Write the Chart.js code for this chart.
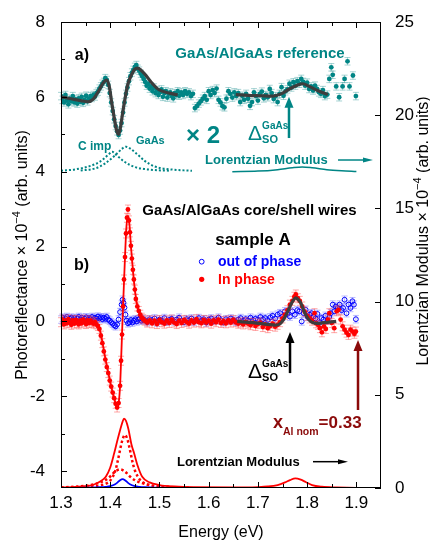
<!DOCTYPE html>
<html>
<head>
<meta charset="utf-8">
<script src="https://cdn.jsdelivr.net/npm/chart.js@4/dist/chart.umd.min.js"></script>
<style>
  html, body { margin: 0; padding: 0; background: #fff; }
</style>
</head>
<body>
<canvas id="pr-canvas" width="430" height="543"></canvas>
<script>
'use strict';

/* ticks */
const xTicks = [1.3, 1.4, 1.5, 1.6, 1.7, 1.8, 1.9];
const xMinor = [1.35, 1.45, 1.55, 1.65, 1.75, 1.85];
const yTicks = [-4, -2, 0, 2, 4, 6, 8];
const yMinor = [-3, -1, 1, 3, 5, 7];
const rTicks = [0, 5, 10, 15, 20, 25];

/* a) GaAs/AlGaAs reference, photoreflectance (x2) */
const refPoints = [
  [1.300,6.02],[1.303,5.92],[1.306,5.85],[1.309,6.05],[1.312,5.90],[1.315,5.80],[1.318,5.95],[1.321,5.88],
  [1.324,6.02],[1.327,5.85],[1.330,5.93],[1.333,5.82],[1.336,5.96],[1.339,5.87],[1.342,6.00],[1.345,5.84],
  [1.348,5.92],[1.351,6.03],[1.354,5.88],[1.357,5.95],[1.360,6.02],[1.363,5.97],[1.366,6.05],[1.369,6.01],
  [1.372,6.10],[1.375,6.14],[1.378,6.22],[1.381,6.28],[1.384,6.35],[1.387,6.40],[1.390,6.50],[1.393,6.45],
  [1.396,6.32],[1.399,6.10],[1.402,5.85],[1.405,5.62],[1.408,5.40],[1.411,5.22],[1.414,5.08],[1.417,4.98],
  [1.420,5.10],[1.423,5.30],[1.426,5.58],[1.429,5.85],[1.432,6.08],[1.435,6.25],[1.438,6.42],[1.441,6.55],
  [1.444,6.65],[1.447,6.72],[1.450,6.80],[1.453,6.85],[1.456,6.75],[1.459,6.70],[1.462,6.62],[1.465,6.55],
  [1.468,6.48],[1.471,6.40],[1.474,6.30],[1.477,6.35],[1.480,6.22],[1.483,6.28],[1.486,6.15],[1.489,6.25],
  [1.492,6.10],[1.495,6.18],[1.498,6.05],[1.501,6.12],[1.504,6.20],[1.507,6.00],[1.510,6.10],[1.513,6.15],
  [1.516,5.98],[1.519,6.08],[1.522,6.12],[1.525,6.02],[1.528,5.96],[1.531,6.10],[1.534,6.05],[1.537,6.15],
  [1.540,6.03],[1.544,6.12],[1.548,6.05],[1.552,6.15],[1.556,6.08],[1.560,6.12],[1.564,6.02],[1.568,6.08],
  [1.572,5.70],[1.576,5.75],[1.580,5.82],[1.584,5.88],[1.588,5.95],[1.592,6.02],[1.596,5.92],[1.600,6.15],
  [1.604,6.05],[1.608,6.18],[1.612,6.10],[1.616,6.22],[1.620,5.92],[1.624,5.85],[1.628,5.75],[1.632,5.72],
  [1.636,5.95],[1.640,6.15],[1.644,6.08],[1.648,5.98],[1.652,6.12],[1.656,6.02],[1.660,6.10],[1.664,5.86],
  [1.668,6.03],[1.672,5.92],[1.676,6.08],[1.680,5.95],[1.684,5.76],[1.688,5.86],[1.692,6.12],[1.696,6.02],
  [1.700,5.90],[1.704,6.08],[1.708,6.14],[1.712,5.96],[1.716,6.05],[1.720,5.99],[1.724,6.21],[1.728,6.10],
  [1.732,5.94],[1.736,6.02],[1.740,5.86],[1.744,6.08],[1.748,6.26],[1.752,6.03],[1.756,6.15],[1.760,6.20],
  [1.764,6.35],[1.768,6.25],[1.772,6.39],[1.776,6.30],[1.780,6.42],[1.784,6.35],[1.788,6.48],[1.792,6.40],
  [1.796,6.30],[1.800,6.38],[1.804,6.21],[1.808,6.28],[1.812,6.17],[1.816,6.30],[1.820,6.21],[1.824,6.12],
  [1.828,6.08],[1.832,6.18],[1.836,6.02],[1.841,6.06],[1.845,6.48],[1.849,6.79],[1.852,6.59],[1.859,6.28],
  [1.865,5.99],[1.872,6.28],[1.876,6.48],[1.882,6.95],[1.886,6.28],[1.893,6.57],[1.899,6.02]
];
const refFitLow = [
  [1.300,6.00],[1.320,5.95],[1.340,5.90],[1.355,5.87],[1.365,5.93],[1.377,6.17],[1.386,6.38],[1.393,6.45],
  [1.398,6.28],[1.403,5.85],[1.408,5.45],[1.413,5.10],[1.417,5.00],[1.421,5.20],[1.425,5.55],[1.430,5.95],
  [1.436,6.35],[1.444,6.61],[1.450,6.74],[1.455,6.77],[1.462,6.72],[1.472,6.58],[1.486,6.35],[1.499,6.19],
  [1.520,6.10],[1.537,6.05]
];
const refFitHigh = [
  [1.655,6.06],[1.680,6.04],[1.705,6.03],[1.730,6.02],[1.747,6.08],[1.764,6.21],[1.781,6.32],[1.791,6.35],
  [1.804,6.28],[1.821,6.17],[1.842,6.06]
];
/* a) Lorentzian moduli (right axis) */
const refModCimp = [
  [1.300,17.02],[1.330,17.10],[1.360,17.28],[1.380,17.52],[1.395,17.85],[1.404,18.04],[1.413,17.85],
  [1.428,17.52],[1.450,17.22],[1.480,17.08],[1.520,17.02]
];
const refModGaAs = [
  [1.340,17.03],[1.370,17.15],[1.390,17.42],[1.410,17.85],[1.425,18.22],[1.432,18.31],[1.440,18.22],
  [1.455,17.90],[1.470,17.55],[1.490,17.25],[1.520,17.10],[1.550,17.04],[1.566,17.02]
];
const refModHigh = [
  [1.648,16.97],[1.700,17.00],[1.740,17.08],[1.770,17.18],[1.790,17.22],[1.810,17.18],[1.840,17.08],
  [1.870,17.02],[1.900,16.98]
];

/* b) core/shell wires, in phase */
const inPhase = [
  [1.300,-0.02],[1.303,0.05],[1.306,-0.08],[1.309,0.02],[1.312,-0.05],[1.315,0.06],[1.318,-0.03],[1.321,-0.09],
  [1.324,0.03],[1.327,-0.06],[1.330,0.04],[1.333,-0.04],[1.336,-0.08],[1.339,0.02],[1.342,-0.05],[1.345,0.05],
  [1.348,-0.02],[1.351,-0.07],[1.354,0.03],[1.357,-0.04],[1.360,0.02],[1.363,-0.03],[1.366,-0.06],[1.369,-0.02],
  [1.372,-0.08],[1.375,-0.12],[1.378,-0.20],[1.381,-0.38],[1.384,-0.58],[1.387,-0.80],[1.390,-1.02],[1.393,-1.22],
  [1.396,-1.38],[1.399,-1.58],[1.402,-1.74],[1.405,-1.90],[1.408,-2.05],[1.411,-2.20],[1.414,-2.30],[1.417,-2.18],
  [1.420,-1.72],[1.422,-1.05],[1.424,-0.35],[1.426,0.40],[1.428,1.12],[1.430,1.72],[1.432,2.35],[1.434,2.77],
  [1.436,2.99],[1.438,2.70],[1.440,2.38],[1.442,2.02],[1.444,1.68],[1.446,1.38],[1.448,1.12],[1.450,0.85],
  [1.452,0.60],[1.455,0.40],[1.458,0.28],[1.461,0.18],[1.464,0.10],[1.467,0.06],[1.470,0.02],[1.475,-0.03],
  [1.480,0.03],[1.485,-0.05],[1.490,0.02],[1.495,-0.07],[1.500,0.04],[1.505,-0.02],[1.510,-0.06],[1.515,0.03],
  [1.520,-0.04],[1.525,0.05],[1.530,-0.03],[1.535,-0.07],[1.540,0.02],[1.545,-0.04],[1.550,0.04],[1.555,-0.01],
  [1.560,-0.06],[1.565,0.03],[1.570,-0.03],[1.575,0.06],[1.580,-0.02],[1.585,-0.05],[1.590,0.04],[1.595,-0.03],
  [1.600,0.02],[1.605,-0.06],[1.610,0.03],[1.615,-0.02],[1.620,0.05],[1.625,-0.04],[1.630,0.01],[1.635,-0.05],
  [1.640,0.03],[1.645,-0.03],[1.650,0.04],[1.655,-0.02],[1.660,-0.06],[1.665,-0.03],[1.670,-0.08],[1.675,-0.02],
  [1.680,-0.06],[1.685,-0.10],[1.690,-0.04],[1.695,-0.12],[1.700,-0.07],[1.705,-0.03],[1.710,-0.15],[1.715,-0.08],
  [1.720,-0.18],[1.725,-0.12],[1.730,-0.06],[1.735,-0.14],[1.740,-0.09],[1.745,-0.02],[1.750,0.08],[1.755,0.18],
  [1.760,0.30],[1.765,0.45],[1.770,0.55],[1.774,0.66],[1.777,0.72],[1.781,0.62],[1.785,0.55],[1.790,0.40],
  [1.795,0.26],[1.800,0.15],[1.805,0.08],[1.810,0.02],[1.815,0.22],[1.818,-0.05],[1.822,-0.09],[1.826,-0.18],
  [1.830,-0.29],[1.834,-0.13],[1.838,-0.20],[1.842,0.05],[1.845,0.22],[1.850,-0.04],[1.855,-0.18],[1.860,0.27],
  [1.864,0.31],[1.868,0.05],[1.872,-0.13],[1.876,-0.22],[1.880,-0.30],[1.884,-0.36],[1.888,-0.22],[1.892,-0.27],
  [1.896,-0.33],[1.899,-0.27]
];
/* b) out of phase */
const outPhase = [
  [1.300,0.05],[1.303,0.10],[1.306,0.02],[1.309,0.08],[1.312,0.12],[1.315,0.03],[1.318,0.07],[1.321,0.10],
  [1.324,0.04],[1.327,0.09],[1.330,0.02],[1.333,0.08],[1.336,0.12],[1.339,0.05],[1.342,0.10],[1.345,0.03],
  [1.348,0.07],[1.351,0.11],[1.354,0.04],[1.357,0.09],[1.360,0.06],[1.363,0.12],[1.366,0.05],[1.369,0.10],
  [1.372,0.07],[1.375,0.13],[1.378,0.08],[1.381,0.11],[1.384,0.06],[1.387,0.10],[1.390,0.07],[1.393,0.12],
  [1.396,0.05],[1.399,0.02],[1.402,-0.02],[1.405,-0.06],[1.408,-0.10],[1.411,-0.13],[1.414,-0.08],[1.417,0.05],
  [1.420,0.25],[1.423,0.45],[1.425,0.58],[1.427,0.50],[1.429,0.37],[1.431,0.18],[1.433,0.02],[1.436,-0.05],
  [1.439,-0.02],[1.442,0.04],[1.445,-0.03],[1.448,0.02],[1.451,0.06],[1.454,0.00],[1.457,0.05],[1.460,0.08],
  [1.463,0.02],[1.466,0.06],[1.470,0.04],[1.475,-0.02],[1.480,0.06],[1.485,0.01],[1.490,0.08],[1.495,-0.03],
  [1.500,0.05],[1.505,0.02],[1.510,0.09],[1.515,-0.01],[1.520,0.04],[1.525,0.07],[1.530,0.00],[1.535,0.05],
  [1.540,0.10],[1.545,0.02],[1.550,-0.02],[1.555,0.06],[1.560,0.03],[1.565,0.08],[1.570,-0.01],[1.575,0.04],
  [1.580,0.09],[1.585,0.02],[1.590,0.06],[1.595,-0.03],[1.600,0.05],[1.605,0.08],[1.610,0.01],[1.615,0.04],
  [1.620,0.10],[1.625,0.03],[1.630,-0.02],[1.635,0.06],[1.640,0.02],[1.645,0.08],[1.650,0.04],[1.655,-0.01],
  [1.660,0.05],[1.665,0.09],[1.670,0.02],[1.675,0.06],[1.680,0.03],[1.685,0.10],[1.690,0.04],[1.695,0.07],
  [1.700,0.05],[1.705,0.12],[1.710,0.06],[1.715,0.09],[1.720,0.04],[1.725,0.11],[1.730,0.15],[1.735,0.08],
  [1.740,0.18],[1.745,0.22],[1.750,0.13],[1.755,0.27],[1.760,0.20],[1.765,0.13],[1.770,0.27],[1.775,0.18],
  [1.780,0.30],[1.784,0.27],[1.789,0.00],[1.793,0.22],[1.797,0.31],[1.801,0.12],[1.805,0.18],[1.809,0.22],
  [1.813,0.13],[1.817,0.08],[1.821,0.20],[1.825,-0.04],[1.829,0.09],[1.833,0.05],[1.837,0.15],[1.841,0.02],
  [1.845,0.12],[1.848,0.22],[1.852,0.45],[1.855,0.27],[1.858,0.40],[1.862,0.36],[1.866,0.45],[1.870,0.30],
  [1.873,0.36],[1.876,0.58],[1.880,0.22],[1.884,0.45],[1.888,0.36],[1.892,0.54],[1.895,0.45],[1.899,0.06]
];
const inPhaseFit = [
  [1.300,-0.02],[1.320,-0.02],[1.340,-0.03],[1.360,-0.03],[1.370,-0.06],[1.375,-0.12],[1.380,-0.28],
  [1.385,-0.62],[1.390,-0.98],[1.395,-1.30],[1.400,-1.62],[1.405,-1.90],[1.410,-2.15],[1.414,-2.30],
  [1.417,-2.20],[1.420,-1.72],[1.423,-0.70],[1.426,0.40],[1.430,1.72],[1.433,2.55],[1.436,2.82],
  [1.439,2.60],[1.442,2.02],[1.446,1.38],[1.450,0.85],[1.455,0.42],[1.460,0.22],[1.470,0.06],[1.480,0.00],
  [1.500,-0.02],[1.550,-0.02],[1.600,-0.02]
];
const wireFitHigh = [
  [1.658,0.00],[1.690,-0.03],[1.720,-0.08],[1.735,-0.10],[1.745,-0.06],[1.752,0.05],[1.760,0.25],
  [1.767,0.45],[1.772,0.57],[1.777,0.63],[1.782,0.58],[1.787,0.49],[1.792,0.33],[1.797,0.18],[1.804,0.04],
  [1.811,-0.03],[1.820,-0.05],[1.830,-0.04],[1.845,-0.02],[1.859,0.00]
];
/* b) Lorentzian moduli (right axis) */
const modInPhase = [
  [1.300,0.03],[1.330,0.06],[1.350,0.10],[1.364,0.16],[1.375,0.28],[1.385,0.45],[1.391,0.60],[1.400,1.10],
  [1.408,1.86],[1.415,2.60],[1.420,3.10],[1.425,3.55],[1.428,3.72],[1.432,3.60],[1.437,3.15],[1.443,2.35],
  [1.4485,1.86],[1.455,1.25],[1.465,0.60],[1.480,0.30],[1.500,0.16],[1.530,0.08],[1.570,0.04],[1.650,0.03],
  [1.700,0.05],[1.720,0.08],[1.740,0.16],[1.755,0.30],[1.765,0.42],[1.776,0.52],[1.787,0.45],[1.797,0.32],
  [1.810,0.16],[1.830,0.07],[1.860,0.03],[1.900,0.01],[1.950,0.01]
];
const modInPhaseA = [
  [1.300,0.02],[1.340,0.05],[1.370,0.10],[1.390,0.22],[1.400,0.40],[1.410,0.90],[1.415,1.42],[1.420,2.05],
  [1.425,2.60],[1.430,2.84],[1.435,2.60],[1.440,2.05],[1.445,1.42],[1.450,0.95],[1.460,0.45],[1.470,0.25],
  [1.490,0.10],[1.520,0.05],[1.560,0.02]
];
const modInPhaseB = [
  [1.300,0.03],[1.330,0.07],[1.360,0.16],[1.380,0.30],[1.390,0.42],[1.400,0.62],[1.410,0.88],[1.420,1.00],
  [1.430,0.88],[1.440,0.62],[1.450,0.42],[1.460,0.30],[1.480,0.16],[1.510,0.07],[1.550,0.03]
];
const modOutPhase = [
  [1.300,0.01],[1.360,0.02],[1.380,0.04],[1.390,0.06],[1.400,0.10],[1.410,0.20],[1.415,0.30],[1.420,0.42],
  [1.425,0.48],[1.430,0.42],[1.435,0.30],[1.440,0.20],[1.450,0.10],[1.460,0.06],[1.470,0.04],[1.490,0.02],
  [1.550,0.01]
];

const FONT = '"Liberation Sans", Arial, sans-serif';
const TEAL = '#008585', RED = '#ff0000', BLUE = '#0000ff', DARKRED = '#8b0a0a', FITGRAY = '#3d3d3d';

const xy = arr => arr.map(p => ({ x: p[0], y: p[1] }));

function line(data, color, width, yAxisID, dash) {
  return {
    data: xy(data), yAxisID: yAxisID || 'y', showLine: true, borderColor: color, borderWidth: width,
    borderDash: dash || [], pointRadius: 0, tension: 0.4, cubicInterpolationMode: 'monotone', fill: false
  };
}
function points(data, color, open, err, errColor) {
  return {
    data: xy(data), yAxisID: 'y', showLine: false, pointRadius: 2.4,
    pointBackgroundColor: open ? 'rgba(0,0,0,0)' : color, pointBorderColor: color,
    pointBorderWidth: open ? 1 : 0, err: err, errColor: errColor
  };
}

function runsWidth(ctx, parts) {
  let w = 0;
  parts.forEach(p => { ctx.font = p[1]; w += ctx.measureText(p[0]).width; });
  return w;
}
function runs(ctx, x, y, parts) {
  let cx = x;
  parts.forEach(p => { ctx.font = p[1]; ctx.fillText(p[0], cx, y + (p[2] || 0)); cx += ctx.measureText(p[0]).width; });
  return cx;
}
function arrow(ctx, x1, y1, x2, y2, color, lw, hl, hw) {
  const a = Math.atan2(y2 - y1, x2 - x1);
  ctx.save();
  ctx.strokeStyle = color; ctx.fillStyle = color; ctx.lineWidth = lw;
  ctx.beginPath(); ctx.moveTo(x1, y1);
  ctx.lineTo(x2 - Math.cos(a) * hl * 0.8, y2 - Math.sin(a) * hl * 0.8); ctx.stroke();
  ctx.translate(x2, y2); ctx.rotate(a);
  ctx.beginPath(); ctx.moveTo(0, 0); ctx.lineTo(-hl, -hw / 2); ctx.lineTo(-hl, hw / 2); ctx.closePath(); ctx.fill();
  ctx.restore();
}
function delta(ctx, x, y, color) {
  ctx.fillStyle = color;
  ctx.font = '21px ' + FONT;
  ctx.fillText('\u0394', x, y);
  const dx = x + ctx.measureText('\u0394').width;
  ctx.font = 'bold 10px ' + FONT; ctx.fillText('GaAs', dx, y - 11);
  ctx.font = 'bold 11px ' + FONT; ctx.fillText('SO', dx, y + 3);
}

const errorBars = {
  id: 'errorBars',
  beforeDatasetDraw(chart, args) {
    const ds = chart.data.datasets[args.index];
    if (!ds.err) return;
    const ctx = chart.ctx, sy = chart.scales.y;
    ctx.save();
    ctx.strokeStyle = ds.errColor; ctx.lineWidth = 1;
    args.meta.data.forEach((pt, i) => {
      const v = ds.data[i].y;
      const t = sy.getPixelForValue(v + ds.err), b = sy.getPixelForValue(v - ds.err);
      ctx.beginPath();
      ctx.moveTo(pt.x, t); ctx.lineTo(pt.x, b);
      ctx.moveTo(pt.x - 3, t); ctx.lineTo(pt.x + 3, t);
      ctx.moveTo(pt.x - 3, b); ctx.lineTo(pt.x + 3, b);
      ctx.stroke();
    });
    ctx.restore();
  }
};

const frame = {
  id: 'frame',
  afterDraw(chart) {
    const ctx = chart.ctx, ca = chart.chartArea;
    const sx = chart.scales.x, sy = chart.scales.y, sr = chart.scales.yR;
    const X = v => sx.getPixelForValue(v), Y = v => sy.getPixelForValue(v), R = v => sr.getPixelForValue(v);
    ctx.save();
    // frame + inward ticks
    ctx.strokeStyle = '#000'; ctx.lineWidth = 1;
    ctx.strokeRect(ca.left + 0.5, ca.top + 0.5, ca.right - ca.left - 1, ca.bottom - ca.top - 1);
    ctx.beginPath();
    const tx = (v, len) => { const p = Math.round(X(v)) + 0.5; ctx.moveTo(p, ca.bottom); ctx.lineTo(p, ca.bottom - len); ctx.moveTo(p, ca.top); ctx.lineTo(p, ca.top + len); };
    xTicks.forEach(v => tx(v, 6)); xMinor.forEach(v => tx(v, 4));
    yTicks.forEach(v => { const p = Math.round(Y(v)) + 0.5; ctx.moveTo(ca.left, p); ctx.lineTo(ca.left + 6, p); });
    yMinor.forEach(v => { const p = Math.round(Y(v)) + 0.5; ctx.moveTo(ca.left, p); ctx.lineTo(ca.left + 4, p); });
    rTicks.forEach(v => { const p = Math.round(R(v)) + 0.5; ctx.moveTo(ca.right, p); ctx.lineTo(ca.right - 6, p); });
    ctx.stroke();

    // axis titles
    ctx.fillStyle = '#000'; ctx.textBaseline = 'middle'; ctx.textAlign = 'left';
    const leftT = [['Photoreflectance \u00d7 10', '16px ' + FONT], ['\u22124', '11px ' + FONT, -6], [' (arb. units)', '16px ' + FONT]];
    const rightT = [['Lorentzian Modulus \u00d7 10', '16px ' + FONT], ['\u22124', '11px ' + FONT, -6], [' (arb. units)', '16px ' + FONT]];
    ctx.save(); ctx.translate(23, (ca.top + ca.bottom) / 2); ctx.rotate(-Math.PI / 2);
    runs(ctx, -runsWidth(ctx, leftT) / 2, 0, leftT); ctx.restore();
    ctx.save(); ctx.translate(424, (ca.top + ca.bottom) / 2 - 24); ctx.rotate(-Math.PI / 2);
    runs(ctx, -runsWidth(ctx, rightT) / 2, 0, rightT); ctx.restore();
    ctx.textAlign = 'center'; ctx.font = '16px ' + FONT;
    ctx.fillText('Energy (eV)', (ca.left + ca.right) / 2, 533);

    // panel a annotations
    ctx.textBaseline = 'alphabetic'; ctx.textAlign = 'left';
    ctx.fillStyle = '#000'; ctx.font = 'bold 16px ' + FONT;
    ctx.fillText('a)', X(1.328), Y(6.985));
    ctx.fillStyle = TEAL; ctx.textAlign = 'center'; ctx.font = 'bold 15px ' + FONT;
    ctx.fillText('GaAs/AlGaAs reference', X(1.7042), Y(7.04));
    ctx.font = 'bold 24px ' + FONT;
    ctx.fillText('\u00d7 2', X(1.5884), Y(4.77));
    ctx.textAlign = 'left';
    ctx.font = 'bold 12px ' + FONT; ctx.fillText('C imp', X(1.3345), Y(4.58));
    ctx.font = 'bold 11px ' + FONT; ctx.fillText('GaAs', X(1.4523), Y(4.74));
    delta(ctx, X(1.680), Y(4.847), TEAL);
    arrow(ctx, X(1.7631), Y(4.90), X(1.7631), Y(6.0), TEAL, 2.5, 11, 9);
    ctx.fillStyle = TEAL; ctx.font = 'bold 13px ' + FONT;
    ctx.fillText('Lorentzian Modulus', X(1.5925), Y(4.206));
    arrow(ctx, X(1.8627), Y(4.313), X(1.9338), Y(4.313), TEAL, 1.5, 10, 5);

    // panel b annotations
    ctx.fillStyle = '#000'; ctx.textAlign = 'center';
    ctx.font = 'bold 15px ' + FONT; ctx.fillText('GaAs/AlGaAs core/shell wires', X(1.6829), Y(2.844));
    ctx.font = 'bold 17px ' + FONT; ctx.fillText('sample A', X(1.690), Y(2.042));
    ctx.textAlign = 'left';
    ctx.font = 'bold 16px ' + FONT; ctx.fillText('b)', X(1.3264), Y(1.374));
    ctx.strokeStyle = BLUE; ctx.lineWidth = 1;
    ctx.beginPath(); ctx.arc(X(1.5858), Y(1.596), 2.4, 0, Math.PI * 2); ctx.stroke();
    ctx.fillStyle = RED;
    ctx.beginPath(); ctx.arc(X(1.5858), Y(1.126), 2.6, 0, Math.PI * 2); ctx.fill();
    ctx.font = 'bold 14px ' + FONT;
    ctx.fillStyle = BLUE; ctx.fillText('out of phase', X(1.6189), Y(1.481));
    ctx.fillStyle = RED; ctx.fillText('In phase', X(1.6189), Y(1.000));
    delta(ctx, X(1.680), Y(-1.51), '#000');
    arrow(ctx, X(1.7652), Y(-1.38), X(1.7652), Y(-0.282), '#000', 2.5, 11, 9);
    arrow(ctx, X(1.9033), Y(-2.366), X(1.9033), Y(-0.496), DARKRED, 2.5, 11, 9);
    ctx.fillStyle = DARKRED;
    runs(ctx, X(1.7306), Y(-2.847), [['x', 'bold 18px ' + FONT], ['Al nom', 'bold 10.5px ' + FONT, 7], ['=0.33', 'bold 17px ' + FONT]]);
    ctx.fillStyle = '#000'; ctx.font = 'bold 13px ' + FONT;
    ctx.fillText('Lorentzian Modulus', X(1.5356), Y(-3.862));
    arrow(ctx, X(1.8119), Y(-3.747), X(1.883), Y(-3.747), '#000', 1.5, 10, 5);
    ctx.restore();
  }
};

new Chart(document.getElementById('pr-canvas'), {
  type: 'scatter',
  data: {
    datasets: [
      line(refFitLow, FITGRAY, 3.2),
      line(refFitHigh, FITGRAY, 3.2),
      line(wireFitHigh, FITGRAY, 3.2),
      line(inPhaseFit, RED, 1.8),
      points(inPhase, RED, false, 0.12, 'rgba(255,60,60,0.45)'),
      points(outPhase, BLUE, true, 0.1, 'rgba(60,60,255,0.35)'),
      points(refPoints, TEAL, false, 0.1, 'rgba(0,133,133,0.35)'),
      line(refModCimp, TEAL, 2, 'yR', [2, 2]),
      line(refModGaAs, TEAL, 2, 'yR', [2, 2]),
      line(refModHigh, TEAL, 1.5, 'yR'),
      line(modOutPhase, BLUE, 1.8, 'yR'),
      line(modInPhaseA, RED, 2.5, 'yR', [2.5, 2.5]),
      line(modInPhaseB, RED, 2.5, 'yR', [2.5, 2.5]),
      line(modInPhase, RED, 1.8, 'yR')
    ]
  },
  options: {
    responsive: false, animation: false, devicePixelRatio: 1, events: [],
    layout: { padding: { top: 22, left: 0, right: 0, bottom: 0 } },
    plugins: { legend: { display: false }, tooltip: { enabled: false } },
    scales: {
      x: {
        type: 'linear', position: 'bottom', min: 1.3, max: 1.95,
        grid: { display: false }, border: { display: false },
        afterBuildTicks: s => { s.ticks = xTicks.map(v => ({ value: v })); },
        afterFit: s => { s.height = 55; },
        ticks: { color: '#000', font: { family: FONT, size: 17 }, padding: -3, maxRotation: 0, callback: v => v.toFixed(1) }
      },
      y: {
        type: 'linear', position: 'left', min: -4.45, max: 8,
        grid: { display: false }, border: { display: false },
        afterBuildTicks: s => { s.ticks = yTicks.map(v => ({ value: v })); },
        afterFit: s => { s.width = 61; },
        ticks: { color: '#000', font: { family: FONT, size: 17 }, padding: 8, callback: v => String(v) }
      },
      yR: {
        type: 'linear', position: 'right', min: 0, max: 25,
        grid: { display: false }, border: { display: false },
        afterBuildTicks: s => { s.ticks = rTicks.map(v => ({ value: v })); },
        afterFit: s => { s.width = 49; },
        ticks: { color: '#000', font: { family: FONT, size: 17 }, padding: 6, callback: v => String(v) }
      }
    }
  },
  plugins: [errorBars, frame]
});
</script>
</body>
</html>
